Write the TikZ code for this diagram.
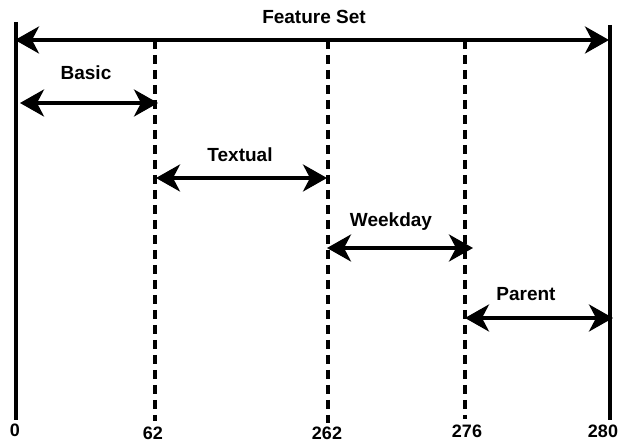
\documentclass[tikz,border=0pt]{standalone}
\usepackage{fontspec}
\setmainfont{Liberation Sans}
\usetikzlibrary{arrows.meta}
\begin{document}
\begin{tikzpicture}[x=1pt,y=-1pt,
  bound/.style={line width=3.5pt},
  divider/.style={line width=3.5pt,dash pattern=on 9pt off 6pt},
  span/.style={line width=3.5pt,{Stealth[length=24pt,width=27pt,inset=7pt]}-{Stealth[length=24pt,width=27pt,inset=7pt]}},
  lbl/.style={font=\bfseries\fontsize{19}{21}\selectfont,inner sep=0pt,anchor=base},
  tick/.style={font=\bfseries\fontsize{18}{20}\selectfont,inner sep=0pt,anchor=base}]
\useasboundingbox (0,0) rectangle (619,443);

% boundaries of the feature vector
\coordinate (s0t) at (16,22);   \coordinate (s0b) at (16,420);
\coordinate (s4t) at (610,25);  \coordinate (s4b) at (610,420);
\coordinate (d1t) at (155,40);  \coordinate (d1b) at (155,421);
\coordinate (d2t) at (328,40);  \coordinate (d2b) at (328,423);
\coordinate (d3t) at (465,40);  \coordinate (d3b) at (465,419);

\draw[bound] (s0t) -- (s0b);
\draw[bound] (s4t) -- (s4b);
\draw[divider] (d1t) -- (d1b);
\draw[divider] (d2t) -- (d2b);
\draw[divider] (d3t) -- (d3b);

% whole feature set
\coordinate (fsL) at (15,40);  \coordinate (fsR) at (609,40);
\draw[span] (fsL) -- (fsR);
\node[lbl] (fs) at (314,24) {Feature Set};

% sub-ranges
\coordinate (bL) at (20,103);  \coordinate (bR) at (158,103);
\draw[span] (bL) -- (bR);
\node[lbl] (basic) at (86,80) {Basic};

\coordinate (tL) at (156,178); \coordinate (tR) at (327,178);
\draw[span] (tL) -- (tR);
\node[lbl] (textual) at (240,162) {Textual};

\coordinate (wL) at (327,248); \coordinate (wR) at (473,248);
\draw[span] (wL) -- (wR);
\node[lbl] (weekday) at (391,227) {Weekday};

\coordinate (pL) at (465,318); \coordinate (pR) at (613,318);
\draw[span] (pL) -- (pR);
\node[lbl] (parent) at (526,301) {Parent};

% offsets
\node[tick] (n0) at (15,437) {0};
\node[tick] (n62) at (153,440) {62};
\node[tick] (n262) at (327,440) {262};
\node[tick] (n276) at (467,438) {276};
\node[tick] (n280) at (603,438) {280};
\end{tikzpicture}
\end{document}
